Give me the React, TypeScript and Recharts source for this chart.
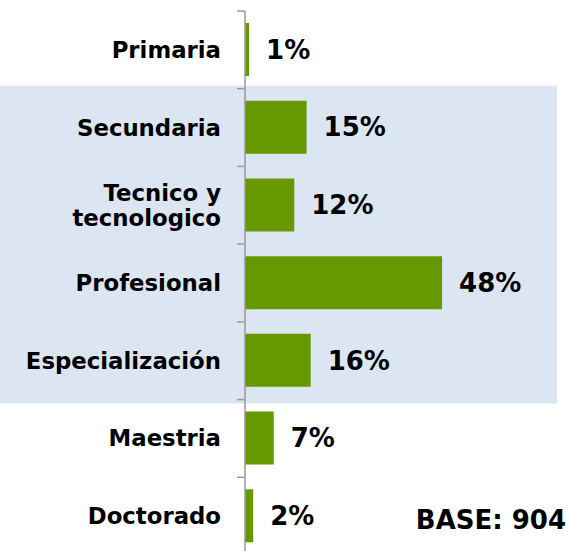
import React from 'react';
import { BarChart, Bar, XAxis, YAxis, ReferenceArea, LabelList } from 'recharts';

const categories = [
  'Primaria',
  'Secundaria',
  'Tecnico y\ntecnologico',
  'Profesional',
  'Especialización',
  'Maestria',
  'Doctorado',
];
const values = [1, 15, 12, 48, 16, 7, 2];
const highlightFrom = 'Secundaria';
const highlightTo = 'Especialización';
const baseText = 'BASE: 904';

const data = categories.map((name, i) => ({ name, value: values[i] }));

const CHART_W = 570;
const CHART_H = 556;
const MARGIN = { top: 11, right: 13, bottom: 1, left: 0 };
const STEP = (CHART_H - MARGIN.top - MARGIN.bottom) / categories.length;
const TICK_SIZE = 8;
const TICK_MARGIN = 16;
const FONT = '"DejaVu Sans", Verdana, sans-serif';
const AXIS_COLOR = '#999999';
const TEXT_COLOR = '#000';

const CategoryTick = (props: any) => {
  const { x, y, payload, index } = props;
  const lines = String(payload.value).split('\n');
  const axisX = x + TICK_SIZE + TICK_MARGIN;
  const lh = 24.5;
  const firstDy = -((lines.length - 1) / 2) * lh + 8;
  return (
    <g>
      <line x1={axisX - TICK_SIZE} x2={axisX} y1={y - STEP / 2} y2={y - STEP / 2} stroke={AXIS_COLOR} strokeWidth={1.5} />
      {index === categories.length - 1 && (
        <line x1={axisX - TICK_SIZE} x2={axisX} y1={y + STEP / 2} y2={y + STEP / 2} stroke={AXIS_COLOR} strokeWidth={1.5} />
      )}
      <text x={x} y={y} textAnchor="end" fontFamily={FONT} fontWeight="bold" fontSize={22.8} fill={TEXT_COLOR}>
        {lines.map((l, i) => (
          <tspan key={i} x={x} dy={i === 0 ? firstDy : lh}>
            {l}
          </tspan>
        ))}
      </text>
    </g>
  );
};

const BandShape = (props: any) => {
  const { x, y, width, height } = props;
  return <rect x={0} y={y - 3} width={x + width} height={height + 7} fill="#dce6f2" />;
};

export default function App() {
  return (
    <div
      style={{
        position: 'absolute',
        left: 0,
        top: 0,
        width: CHART_W,
        height: 551,
        overflow: 'hidden',
        background: '#fff',
        fontFamily: FONT,
      }}
    >
      <BarChart width={CHART_W} height={CHART_H} data={data} layout="vertical" margin={MARGIN}>
        <XAxis type="number" domain={[0, 76]} hide />
        <YAxis
          type="category"
          dataKey="name"
          width={245}
          axisLine={{ stroke: AXIS_COLOR, strokeWidth: 1.5 }}
          tickLine={false}
          tickSize={TICK_SIZE}
          tickMargin={TICK_MARGIN}
          tick={<CategoryTick />}
          interval={0}
        />
        <ReferenceArea y1={highlightFrom} y2={highlightTo} shape={<BandShape />} ifOverflow="visible" />
        <Bar dataKey="value" fill="#669900" barSize={53} isAnimationActive={false}>
          <LabelList
            dataKey="value"
            position="right"
            offset={17}
            formatter={(v: any) => `${v}%`}
            fill={TEXT_COLOR}
            fontSize={26}
            fontWeight="bold"
            fontFamily={FONT}
          />
        </Bar>
      </BarChart>
      <div
        style={{
          position: 'absolute',
          right: 4,
          top: 507,
          fontSize: 26,
          lineHeight: '26px',
          fontWeight: 'bold',
          color: TEXT_COLOR,
          whiteSpace: 'nowrap',
        }}
      >
        {baseText}
      </div>
    </div>
  );
}
